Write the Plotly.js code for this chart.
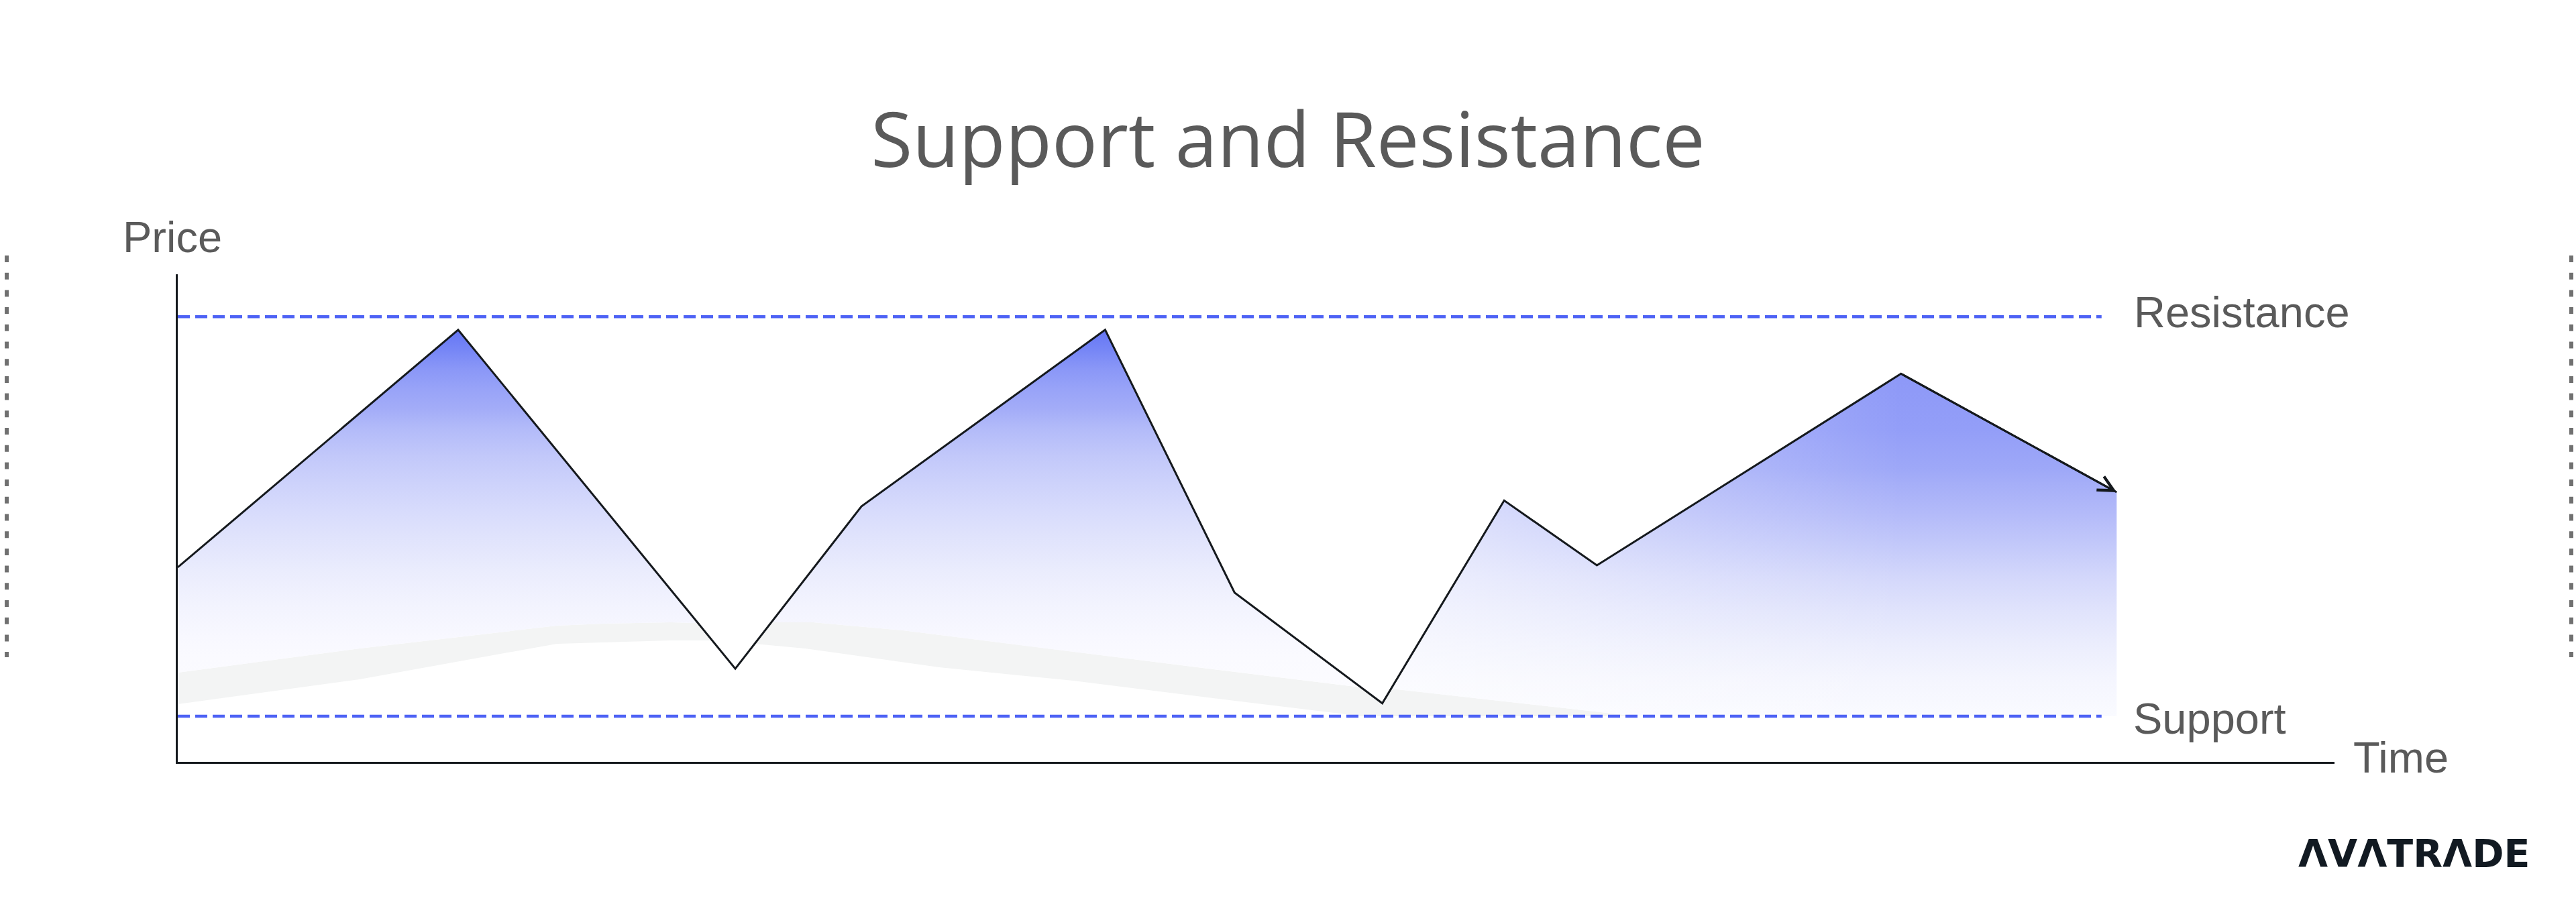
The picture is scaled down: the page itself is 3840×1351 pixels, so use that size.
<!DOCTYPE html>
<html>
<head>
<meta charset="utf-8">
<script src="https://cdn.plot.ly/plotly-3.0.1.min.js"></script>
<style>
  html, body { margin: 0; padding: 0; background: #ffffff; }
  #chart { width: 3840px; height: 1351px; }
</style>
</head>
<body>
<div id="chart"></div>
<script>
// ---- data (x: time 0-100, y: price 0-100) ----
const priceX = [0, 13.0, 25.85, 31.7, 43.0, 49.0, 55.85, 61.5, 65.8, 79.9, 89.9];
const priceY = [39.9, 88.6, 19.1, 52.4, 88.6, 34.7, 12.0, 53.6, 40.3, 79.6, 55.3];
const splitIndex = 6;   // second trough: the shading changes from here

const levelNames = ['Resistance', 'Support'];
const levelValues = [91.3, 9.35];
const levelSpanX = [0, 89.2];

// faint grey shadow band under the shaded area
const shadeTopX = [0, 8.43, 17.57, 19.75, 22.86, 24.12, 24.78, 26.75, 27.52, 29.46, 33.62, 41.52, 47.74, 54.86, 55.85, 56.26, 67.37];
const shadeTopY = [18.29, 23.25, 27.92, 28.34, 28.61, 28.47, 24.90, 24.21, 28.61, 28.61, 26.96, 22.56, 19.12, 15.27, 12.0, 14.99, 9.49];
const shadeBottomX = [0, 8.43, 17.57, 22.86, 24.78, 26.75, 29.08, 35.30, 41.52, 47.74, 54.90, 67.37];
const shadeBottomY = [11.83, 16.92, 24.21, 24.90, 24.90, 24.21, 23.25, 19.39, 16.64, 13.20, 9.35, 9.35];

// lower edges of the blue shading
const floorAX = [0, 8.43, 17.57, 19.75, 22.86, 24.12, 25.85, 27.52, 29.46, 33.62, 41.52, 47.74, 54.86, 55.85];
const floorAY = [18.29, 23.25, 27.92, 28.34, 28.61, 28.47, 19.1, 28.61, 28.61, 26.96, 22.56, 19.12, 15.27, 12.0];
const floorBX = [55.85, 56.26, 67.37, 89.9];
const floorBY = [12.0, 14.99, 9.49, 9.35];

const axisLabels = {price: 'Price', time: 'Time'};
const chartTitle = 'Support and Resistance';
const brand = 'ΛVΛTRΛDE';

// ---- styles ----
const ink = '#15191d';
const labelColor = '#5a5a5a';
const levelColor = '#4d62f5';
const labelFont = 'Liberation Sans, Arial, sans-serif';

const gradA = [
  [0.00, '#fdfdff'], [0.146, '#fafaff'], [0.197, '#f8f8ff'], [0.285, '#f2f3fe'],
  [0.371, '#eaecfd'], [0.458, '#e0e3fc'], [0.528, '#d7dbfc'], [0.597, '#cdd2fb'],
  [0.667, '#c2c8fa'], [0.737, '#b3bbf9'], [0.790, '#a3acf8'], [0.842, '#98a3f8'],
  [0.894, '#8a97f7'], [0.946, '#7585f6'], [1.00, '#6475f5']
];
const gradB = [
  [0.00, '#fafbff'], [0.117, '#f4f5fe'], [0.204, '#eceefd'], [0.311, '#e0e3fc'],
  [0.408, '#d3d7fb'], [0.504, '#c2c8fa'], [0.592, '#b3baf9'], [0.679, '#a5aef8'],
  [0.718, '#9ea8f8'], [0.834, '#939ef8'], [1.00, '#8d98f7']
];
const fadeB = [[0, 'rgba(255,255,255,0.62)'], [0.55, 'rgba(255,255,255,0.25)'], [1, 'rgba(255,255,255,0)']];

const hidden = {width: 0, color: 'rgba(0,0,0,0)'};
const priceBX = priceX.slice(splitIndex), priceBY = priceY.slice(splitIndex);
const traces = [
  {x: shadeBottomX, y: shadeBottomY, mode: 'lines', line: hidden, hoverinfo: 'skip', showlegend: false},
  {x: shadeTopX, y: shadeTopY, mode: 'lines', line: hidden, fill: 'tonexty', fillcolor: '#f3f4f4', hoverinfo: 'skip', showlegend: false},
  {x: floorAX, y: floorAY, mode: 'lines', line: hidden, hoverinfo: 'skip', showlegend: false},
  {x: priceX.slice(0, splitIndex + 1), y: priceY.slice(0, splitIndex + 1), mode: 'lines', line: hidden,
   fill: 'tonexty', fillgradient: {type: 'vertical', start: 10, stop: 89, colorscale: gradA},
   hoverinfo: 'skip', showlegend: false},
  {x: floorBX, y: floorBY, mode: 'lines', line: hidden, hoverinfo: 'skip', showlegend: false},
  {x: priceBX, y: priceBY, mode: 'lines', line: hidden,
   fill: 'tonexty', fillgradient: {type: 'vertical', start: 9, stop: 80, colorscale: gradB},
   hoverinfo: 'skip', showlegend: false},
  {x: floorBX, y: floorBY, mode: 'lines', line: hidden, hoverinfo: 'skip', showlegend: false},
  {x: priceBX, y: priceBY, mode: 'lines', line: hidden,
   fill: 'tonexty', fillgradient: {type: 'horizontal', start: priceX[splitIndex], stop: priceX[splitIndex + 3], colorscale: fadeB},
   hoverinfo: 'skip', showlegend: false}
];
levelValues.forEach(function (v, i) {
  traces.push({x: levelSpanX, y: [v, v], mode: 'lines', name: levelNames[i],
    line: {color: levelColor, width: 4.5, dash: '18px,8px'}, hoverinfo: 'skip', showlegend: false});
});
traces.push({x: priceX, y: priceY, mode: 'lines', name: 'Price',
  line: {color: ink, width: 3}, hoverinfo: 'skip', showlegend: false});

const n = priceX.length;
const annotations = [
  {x: priceX[n - 1], y: priceY[n - 1], xref: 'x', yref: 'y',
   ax: priceX[n - 2], ay: priceY[n - 2], axref: 'x', ayref: 'y',
   text: '', showarrow: true, arrowhead: 5, arrowsize: 1.5, arrowwidth: 3, arrowcolor: ink, standoff: 0},
  {x: -0.0261, y: 1.077, xref: 'paper', yref: 'paper', xanchor: 'left', yanchor: 'middle',
   text: axisLabels.price, showarrow: false, font: {family: labelFont, size: 65, color: labelColor}},
  {x: 1.0081, y: 0.0083, xref: 'paper', yref: 'paper', xanchor: 'left', yanchor: 'middle',
   text: axisLabels.time, showarrow: false, font: {family: labelFont, size: 65, color: labelColor}},
  {x: 0.9064, y: 0.9216, xref: 'paper', yref: 'paper', xanchor: 'left', yanchor: 'middle',
   text: levelNames[0], showarrow: false, font: {family: labelFont, size: 65, color: labelColor}},
  {x: 0.9061, y: 0.0894, xref: 'paper', yref: 'paper', xanchor: 'left', yanchor: 'middle',
   text: levelNames[1], showarrow: false, font: {family: labelFont, size: 65, color: labelColor}},
  {x: 0.9826, y: -0.1878, xref: 'paper', yref: 'paper', xanchor: 'left', yanchor: 'middle',
   text: '<b>' + brand + '</b>', showarrow: false, font: {family: 'DejaVu Sans, sans-serif', size: 57, color: '#121a22'}}
];

const dotted = {color: '#707070', width: 6, dash: '10px,15.7px'};
const shapes = [
  {type: 'line', xref: 'paper', yref: 'paper', x0: -0.0793, x1: -0.0793, y0: 1.0385, y1: 0.2146, line: dotted},
  {type: 'line', xref: 'paper', yref: 'paper', x0: 1.1098, x1: 1.1098, y0: 1.0385, y1: 0.2146, line: dotted}
];

const layout = {
  width: 3840, height: 1351,
  paper_bgcolor: '#ffffff', plot_bgcolor: 'rgba(0,0,0,0)',
  margin: {l: 265, r: 360, t: 409, b: 215, pad: 0},
  title: {text: chartTitle, x: 0.5, xref: 'container', xanchor: 'center',
          y: 0.845, yref: 'container', yanchor: 'middle',
          font: {family: 'Open Sans, sans-serif', size: 113, color: labelColor}},
  xaxis: {range: [0, 100], showline: true, linecolor: ink, linewidth: 3, showgrid: false,
          zeroline: false, showticklabels: false, ticks: '', fixedrange: true},
  yaxis: {range: [0, 100], showline: true, linecolor: ink, linewidth: 3, showgrid: false,
          zeroline: false, showticklabels: false, ticks: '', fixedrange: true},
  annotations: annotations,
  shapes: shapes,
  showlegend: false
};

Plotly.newPlot('chart', traces, layout, {displayModeBar: false, staticPlot: true});
</script>
</body>
</html>
